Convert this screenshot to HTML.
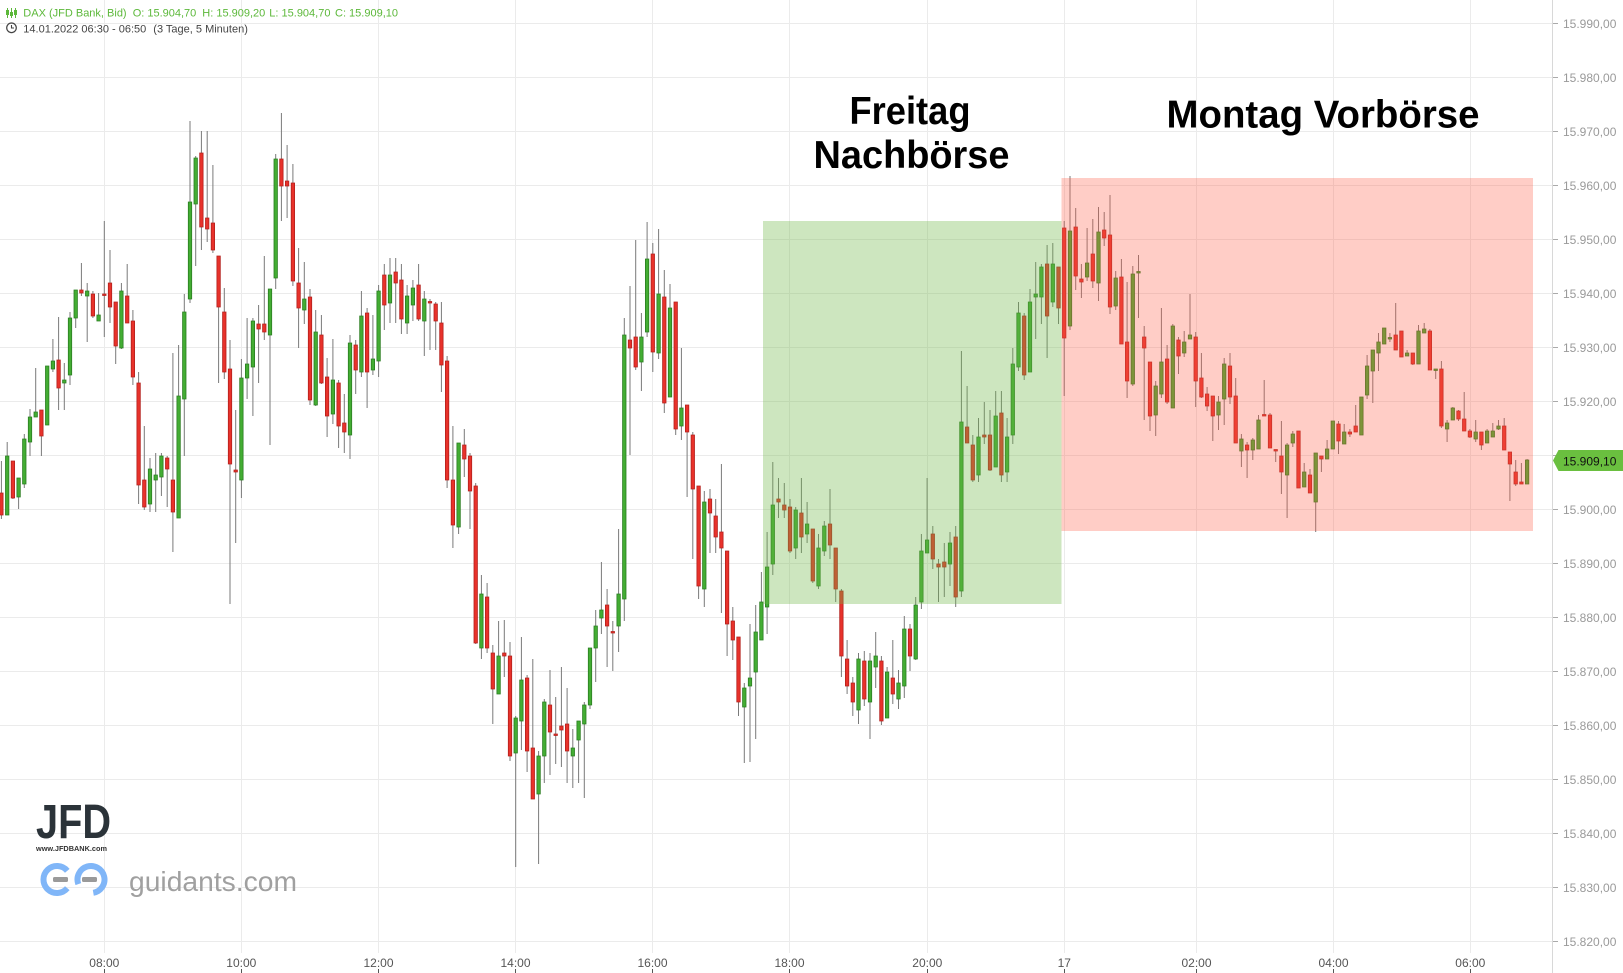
<!DOCTYPE html>
<html>
<head>
<meta charset="utf-8">
<style>
html,body{margin:0;padding:0;background:#fff;}
body{width:1623px;height:973px;overflow:hidden;}
svg{display:block;}
text{font-family:"Liberation Sans",Arial,sans-serif;}
</style>
</head>
<body>
<svg width="1623" height="973" viewBox="0 0 1623 973" xmlns="http://www.w3.org/2000/svg">
<rect width="1623" height="973" fill="#fff"/>
<!-- horizontal gridlines -->
<g stroke="#ebebeb" stroke-width="1">
<path d="M0 23.5H1552M0 77.5H1552M0 131.5H1552M0 185.5H1552M0 239.5H1552M0 293.5H1552M0 347.5H1552M0 401.5H1552M0 455.5H1552M0 509.5H1552M0 563.5H1552M0 617.5H1552M0 671.5H1552M0 725.5H1552M0 779.5H1552M0 833.5H1552M0 887.5H1552M0 941.5H1552"/>
<path d="M104.5 0V953M241.5 0V953M378.5 0V953M515.5 0V953M652.5 0V953M789.5 0V953M927.5 0V953M1064.5 0V953M1196.5 0V953M1333.5 0V953M1470.5 0V953"/>
</g>
<!-- wicks -->
<path fill="none" stroke="#7a7a7a" stroke-width="1" d="M1.4 461V519M7.2 442V515M12.9 461V499M18.6 478V509M24.3 434V488M30 409V456M35.7 368V417M41.4 410V456M47.2 366V425M52.9 339V372M58.6 317V410M64.3 363V410M70 312V385M75.7 290V328M81.4 263V296M87.2 283V342M92.9 291V318M98.6 293V321M104.3 221V337M110 250V323M115.7 302V364M121.4 283V349M127.2 264V323M132.9 310V385M138.6 372V504M144.3 426V510M150 458V512M155.7 453V512M161.4 453V496M167.2 456V507M172.9 353V552M178.6 345V518M184.3 294V456M190 121V303M195.7 156V266M201.4 131V250M207.2 131V242M212.9 165V253M218.6 256V383M224.3 288V379M230 340V604M235.7 410V543M241.4 359V498M247.1 318V399M252.9 318V416M258.6 305V383M264.3 256V340M270 289V445M275.7 154V289M281.4 113V221M287.1 145V218M292.9 164V286M298.6 248V348M304.3 262V324M310 289V405M315.7 310V406M321.4 315V384M327.1 358V437M332.9 339V424M338.6 380V448M344.3 394V453M350 335V459M355.7 340V394M361.4 291V377M367.1 308V408M372.9 315V375M378.6 285V377M384.3 264V330M390 258V323M395.7 258V323M401.4 264V334M407.1 285V334M412.9 280V321M418.6 264V321M424.3 291V356M430 299V350M435.7 302V350M441.4 302V392M447.1 356V488M452.9 426V548M458.6 444V534M464.3 429V477M470 453V529M475.7 483V644M481.4 575V659M487.1 583V653M492.8 645V724M498.6 621V694M504.3 620V677M510 642V761M515.7 716V867M521.4 637V750M527.1 675V772M532.8 659V799M538.6 751V864M544.3 699V783M550 670V775M555.7 697V764M561.4 667V767M567.1 688V783M572.8 729V788M578.6 721V783M584.3 702V798M590 648V709M595.7 610V682M601.4 562V634M607.1 589V667M612.8 621V671M618.6 529V652M624.3 318V621M630 286V455M635.7 240V370M641.4 313V391M647.1 222V337M652.8 243V372M658.6 229V359M664.3 270V413M670 284V397M675.7 302V435M681.4 348V440M687.1 405V497M692.8 432V559M698.6 486V599M704.3 491V607M710 489V553M715.7 499V553M721.4 464V613M727.1 551V656M732.8 607V660M738.5 637V716M744.3 683V763M750 624V762M755.7 605V739M761.4 572V640M767.1 532V634M772.8 462V575M778.5 478V518M784.3 483V518M790 499V553M795.7 507V559M801.4 478V553M807.1 502V543M812.8 529V583M818.5 534V589M824.3 521V556M830 489V559M835.7 548V602M841.4 589V677M847.1 640V694M852.8 677V716M858.5 653V724M864.3 651V706M870 653V739M875.7 632V688M881.4 656V725M887.1 667V718M892.8 640V704M898.5 670V709M904.3 616V698M910 624V671M915.7 597V660M921.4 534V609M927.1 478V553M932.8 526V569M938.5 559V602M944.3 543V597M950 532V586M955.7 526V607M961.4 351V597M967.1 386V443M972.8 435V482M978.5 418V482M984.3 402V444M990 410V471M995.7 391V467M1001.4 391V482M1007.1 418V482M1012.8 348V444M1018.5 302V371M1024.2 313V380M1030 289V372M1035.7 262V339M1041.4 264V324M1047.1 245V358M1052.8 243V307M1058.5 267V324M1064.2 221V396M1070 176V330M1075.7 208V290M1081.4 264V298M1087.1 228V281M1092.8 219V288M1098.5 207V301M1104.2 212V246M1110 195V314M1115.7 271V310M1121.4 259V344M1127.1 282V398M1132.8 266V386M1138.5 255V318M1144.2 326V420M1150 362V431M1155.7 381V436M1161.4 308V398M1167.1 345V404M1172.8 324V408M1178.5 337V374M1184.2 331V357M1190 294V339M1195.7 332V407M1201.4 353V398M1207.1 387V411M1212.8 396V441M1218.5 396V430M1224.2 358V425M1230 353V404M1235.7 378V443M1241.4 434V467M1247.1 442V478M1252.8 438V460M1258.5 415V449M1264.2 380V415M1270 413V448M1275.7 450V462M1281.4 421V494M1287.1 443V518M1292.8 431V447M1298.5 431V488M1304.2 463V487M1310 469V493M1315.7 453V532M1321.4 456V472M1327.1 440V459M1332.8 421V449M1338.5 421V454M1344.2 424V444M1349.9 429V437M1355.7 405V432M1361.4 397V435M1367.1 355V399M1372.8 350V403M1378.5 333V371M1384.2 328V344M1389.9 333V342M1395.7 303V350M1401.4 331V357M1407.1 350V356M1412.8 353V365M1418.5 325V364M1424.2 323V333M1429.9 329V370M1435.7 370V379M1441.4 361V428M1447.1 420V442M1452.8 407V420M1458.5 410V421M1464.2 392V431M1469.9 429V438M1475.7 420V442M1481.4 432V450M1487.1 429V443M1492.8 423V437M1498.5 420V430M1504.2 418V450M1509.9 452V501M1515.7 460V486M1521.4 463V484M1527.1 459V484"/>
<!-- green bodies -->
<path fill="#43ad33" stroke="#2a7d20" stroke-width="0.8" d="M5.5 456h3.4V515h-3.4zM16.9 478h3.4V497h-3.4zM22.6 439h3.4V484h-3.4zM28.3 417h3.4V442h-3.4zM34 412h3.4V417h-3.4zM45.5 366h3.4V425h-3.4zM51.2 361h3.4V369h-3.4zM62.6 380h3.4V383h-3.4zM68.3 318h3.4V375h-3.4zM74 290h3.4V318h-3.4zM85.5 291h3.4V296h-3.4zM96.9 315h3.4V321h-3.4zM119.7 291h3.4V348h-3.4zM148.3 469h3.4V504h-3.4zM154 475h3.4V480h-3.4zM159.7 456h3.4V477h-3.4zM176.9 396h3.4V518h-3.4zM182.6 312h3.4V399h-3.4zM188.3 202h3.4V299h-3.4zM194 158h3.4V204h-3.4zM239.7 378h3.4V480h-3.4zM245.4 364h3.4V378h-3.4zM251.2 321h3.4V367h-3.4zM268.3 289h3.4V335h-3.4zM274 159h3.4V278h-3.4zM302.6 299h3.4V310h-3.4zM314 332h3.4V405h-3.4zM331.2 380h3.4V414h-3.4zM348.3 343h3.4V435h-3.4zM359.7 316h3.4V372h-3.4zM371.2 359h3.4V370h-3.4zM376.9 291h3.4V361h-3.4zM388.3 275h3.4V303h-3.4zM405.4 296h3.4V323h-3.4zM411.2 288h3.4V305h-3.4zM422.6 299h3.4V321h-3.4zM456.9 443h3.4V527h-3.4zM479.7 594h3.4V648h-3.4zM496.9 656h3.4V694h-3.4zM514 718h3.4V753h-3.4zM519.7 680h3.4V721h-3.4zM536.9 756h3.4V794h-3.4zM542.6 702h3.4V756h-3.4zM571.1 748h3.4V756h-3.4zM576.9 721h3.4V740h-3.4zM582.6 705h3.4V724h-3.4zM588.3 648h3.4V705h-3.4zM594 626h3.4V648h-3.4zM599.7 610h3.4V618h-3.4zM616.9 594h3.4V626h-3.4zM622.6 335h3.4V599h-3.4zM639.7 337h3.4V362h-3.4zM645.4 259h3.4V332h-3.4zM656.9 294h3.4V353h-3.4zM668.3 308h3.4V397h-3.4zM679.7 408h3.4V426h-3.4zM702.6 502h3.4V589h-3.4zM742.6 688h3.4V707h-3.4zM748.3 678h3.4V686h-3.4zM754 632h3.4V672h-3.4zM759.7 602h3.4V640h-3.4zM765.4 567h3.4V607h-3.4zM771.1 505h3.4V564h-3.4zM794 510h3.4V548h-3.4zM805.4 524h3.4V534h-3.4zM816.8 548h3.4V586h-3.4zM822.6 526h3.4V551h-3.4zM856.8 659h3.4V710h-3.4zM868.3 661h3.4V702h-3.4zM874 656h3.4V667h-3.4zM885.4 672h3.4V718h-3.4zM896.8 683h3.4V699h-3.4zM902.6 629h3.4V686h-3.4zM914 605h3.4V659h-3.4zM919.7 551h3.4V602h-3.4zM925.4 540h3.4V553h-3.4zM948.3 543h3.4V564h-3.4zM959.7 422h3.4V591h-3.4zM976.8 437h3.4V475h-3.4zM994 416h3.4V467h-3.4zM1005.4 437h3.4V472h-3.4zM1011.1 364h3.4V435h-3.4zM1016.8 313h3.4V367h-3.4zM1028.3 302h3.4V372h-3.4zM1034 294h3.4V297h-3.4zM1039.7 267h3.4V297h-3.4zM1051.1 264h3.4V302h-3.4zM1068.3 231h3.4V326h-3.4zM1085.4 263h3.4V277h-3.4zM1096.8 232h3.4V283h-3.4zM1114 278h3.4V306h-3.4zM1131.1 274h3.4V384h-3.4zM1136.8 271.5h3.4V273h-3.4zM1154 386h3.4V415h-3.4zM1159.7 362h3.4V394h-3.4zM1171.1 326h3.4V408h-3.4zM1182.5 342h3.4V353h-3.4zM1188.3 335h3.4V339h-3.4zM1216.8 402h3.4V415h-3.4zM1222.5 364h3.4V399h-3.4zM1239.7 439h3.4V451h-3.4zM1251.1 440h3.4V450h-3.4zM1256.8 420h3.4V449h-3.4zM1285.4 445h3.4V475h-3.4zM1291.1 434h3.4V443h-3.4zM1302.5 472h3.4V487h-3.4zM1314 453h3.4V502h-3.4zM1325.4 449h3.4V459h-3.4zM1331.1 421h3.4V449h-3.4zM1342.5 432h3.4V444h-3.4zM1359.7 397h3.4V435h-3.4zM1365.4 366h3.4V395h-3.4zM1371.1 350h3.4V371h-3.4zM1376.8 342h3.4V353h-3.4zM1382.5 328h3.4V344h-3.4zM1388.2 337.5h3.4V339h-3.4zM1405.4 353h3.4V356h-3.4zM1416.8 331h3.4V364h-3.4zM1422.5 329h3.4V333h-3.4zM1434 369h3.4V370.5h-3.4zM1445.4 423h3.4V429h-3.4zM1451.1 408h3.4V420h-3.4zM1474 432h3.4V439h-3.4zM1485.4 431h3.4V443h-3.4zM1491.1 431h3.4V437h-3.4zM1496.8 426h3.4V429h-3.4zM1525.4 460h3.4V484h-3.4z"/>
<!-- red bodies -->
<path fill="#e8322b" stroke="#b3201c" stroke-width="0.8" d="M-0.3 493h3.4V515h-3.4zM11.2 461h3.4V498h-3.4zM39.7 410h3.4V436h-3.4zM56.9 360h3.4V388h-3.4zM79.7 290h3.4V293h-3.4zM91.2 294h3.4V316h-3.4zM102.6 294h3.4V295.5h-3.4zM108.3 283h3.4V307h-3.4zM114 302h3.4V346h-3.4zM125.5 296h3.4V323h-3.4zM131.2 321h3.4V377h-3.4zM136.9 383h3.4V485h-3.4zM142.6 480h3.4V507h-3.4zM165.5 458h3.4V469h-3.4zM171.2 480h3.4V512h-3.4zM199.7 153h3.4V227h-3.4zM205.5 218h3.4V229h-3.4zM211.2 223h3.4V250h-3.4zM216.9 256h3.4V307h-3.4zM222.6 312h3.4V372h-3.4zM228.3 369h3.4V464h-3.4zM234 470h3.4V472h-3.4zM256.9 324h3.4V329h-3.4zM262.6 324h3.4V332h-3.4zM279.7 159h3.4V186h-3.4zM285.4 181h3.4V186h-3.4zM291.2 183h3.4V281h-3.4zM296.9 283h3.4V308h-3.4zM308.3 297h3.4V400h-3.4zM319.7 335h3.4V383h-3.4zM325.4 377h3.4V416h-3.4zM336.9 383h3.4V426h-3.4zM342.6 423h3.4V432h-3.4zM354 345h3.4V370h-3.4zM365.4 313h3.4V372h-3.4zM382.6 275h3.4V305h-3.4zM394 272h3.4V283h-3.4zM399.7 280h3.4V319h-3.4zM416.9 285h3.4V319h-3.4zM428.3 301.5h3.4V303h-3.4zM434 304h3.4V321h-3.4zM439.7 323h3.4V365h-3.4zM445.4 361h3.4V480h-3.4zM451.2 480h3.4V525h-3.4zM462.6 445h3.4V459h-3.4zM468.3 456h3.4V491h-3.4zM474 486h3.4V643h-3.4zM485.4 597h3.4V648h-3.4zM491.1 653h3.4V689h-3.4zM502.6 653h3.4V656h-3.4zM508.3 656h3.4V756h-3.4zM525.4 678h3.4V751h-3.4zM531.1 748h3.4V799h-3.4zM548.3 705h3.4V732h-3.4zM554 734h3.4V735.5h-3.4zM559.7 726h3.4V730h-3.4zM565.4 724h3.4V751h-3.4zM605.4 605h3.4V626h-3.4zM611.1 631.5h3.4V633h-3.4zM628.3 340h3.4V348h-3.4zM634 337h3.4V367h-3.4zM651.1 254h3.4V352h-3.4zM662.6 297h3.4V403h-3.4zM674 302h3.4V429h-3.4zM685.4 405h3.4V432h-3.4zM691.1 435h3.4V489h-3.4zM696.9 486h3.4V586h-3.4zM708.3 499h3.4V513h-3.4zM714 516h3.4V537h-3.4zM719.7 532h3.4V548h-3.4zM725.4 551h3.4V624h-3.4zM731.1 621h3.4V640h-3.4zM736.8 637h3.4V702h-3.4zM776.8 499h3.4V502h-3.4zM782.6 505h3.4V510h-3.4zM788.3 507h3.4V551h-3.4zM799.7 513h3.4V537h-3.4zM811.1 529h3.4V581h-3.4zM828.3 524h3.4V545h-3.4zM834 548h3.4V589h-3.4zM839.7 591h3.4V656h-3.4zM845.4 659h3.4V686h-3.4zM851.1 683h3.4V702h-3.4zM862.6 661h3.4V699h-3.4zM879.7 661h3.4V721h-3.4zM891.1 678h3.4V694h-3.4zM908.3 629h3.4V656h-3.4zM931.1 534h3.4V559h-3.4zM936.8 564h3.4V567h-3.4zM942.6 562h3.4V567h-3.4zM954 537h3.4V597h-3.4zM965.4 427h3.4V443h-3.4zM971.1 445h3.4V480h-3.4zM982.6 435h3.4V437h-3.4zM988.3 435h3.4V470h-3.4zM999.7 413h3.4V475h-3.4zM1022.5 316h3.4V375h-3.4zM1045.4 264h3.4V316h-3.4zM1056.8 267h3.4V308h-3.4zM1062.5 228h3.4V338h-3.4zM1074 227h3.4V276h-3.4zM1079.7 279h3.4V282h-3.4zM1091.1 254h3.4V281h-3.4zM1102.5 230h3.4V238h-3.4zM1108.3 235h3.4V307h-3.4zM1119.7 277h3.4V344h-3.4zM1125.4 342h3.4V381h-3.4zM1142.5 337h3.4V348h-3.4zM1148.3 362h3.4V416h-3.4zM1165.4 359h3.4V402h-3.4zM1176.8 340h3.4V356h-3.4zM1194 337h3.4V381h-3.4zM1199.7 378h3.4V397h-3.4zM1205.4 394h3.4V406h-3.4zM1211.1 396h3.4V416h-3.4zM1228.3 366h3.4V397h-3.4zM1234 396h3.4V443h-3.4zM1245.4 445h3.4V450h-3.4zM1262.5 414.5h3.4V416h-3.4zM1268.3 415h3.4V448h-3.4zM1274 449.5h3.4V451h-3.4zM1279.7 456h3.4V472h-3.4zM1296.8 431h3.4V488h-3.4zM1308.3 475h3.4V493h-3.4zM1319.7 456h3.4V459h-3.4zM1336.8 424h3.4V441h-3.4zM1348.2 432h3.4V434h-3.4zM1354 426h3.4V432h-3.4zM1394 335h3.4V350h-3.4zM1399.7 331h3.4V357h-3.4zM1411.1 353h3.4V364h-3.4zM1428.2 331h3.4V370h-3.4zM1439.7 369h3.4V426h-3.4zM1456.8 411h3.4V419h-3.4zM1462.5 419h3.4V431h-3.4zM1468.2 431h3.4V437h-3.4zM1479.7 432h3.4V445h-3.4zM1502.5 426h3.4V450h-3.4zM1508.2 452h3.4V464h-3.4zM1514 472h3.4V484h-3.4zM1519.7 482h3.4V484h-3.4z"/>
<!-- session boxes -->
<rect x="763" y="221" width="298.5" height="383" fill="rgb(112,182,72)" fill-opacity="0.35"/>
<rect x="1061.5" y="178" width="471.5" height="353" fill="rgb(255,95,70)" fill-opacity="0.31"/>
<!-- annotations -->
<text x="910" y="124" text-anchor="middle" font-size="39" font-weight="bold" fill="#000" textLength="121" lengthAdjust="spacingAndGlyphs">Freitag</text>
<text x="911.5" y="168" text-anchor="middle" font-size="39" font-weight="bold" fill="#000" textLength="196" lengthAdjust="spacingAndGlyphs">Nachbörse</text>
<text x="1323" y="127.5" text-anchor="middle" font-size="39" font-weight="bold" fill="#000" textLength="313" lengthAdjust="spacingAndGlyphs">Montag Vorbörse</text>
<!-- header -->
<g fill="#5cb83a" stroke="#5cb83a">
<path d="M7.5 8V18M11.5 8V18M15.5 8V18" stroke-width="1" fill="none"/>
<rect x="6" y="10" width="3" height="5" stroke="none"/>
<rect x="10" y="12" width="3" height="4" stroke="none"/>
<rect x="14" y="10" width="3" height="5" stroke="none"/>
</g>
<g font-size="11" fill="#5cb83a">
<text x="23.3" y="16.7">DAX (JFD Bank, Bid)</text>
<text x="132.7" y="16.7">O: 15.904,70</text>
<text x="202.3" y="16.7">H: 15.909,20</text>
<text x="269.3" y="16.7">L: 15.904,70</text>
<text x="335" y="16.7">C: 15.909,10</text>
</g>
<circle cx="11.5" cy="27.8" r="4.8" fill="none" stroke="#444" stroke-width="1.2"/>
<path d="M11.5 25V28H14" fill="none" stroke="#444" stroke-width="1.1"/>
<g font-size="11" fill="#444">
<text x="23.3" y="32.3">14.01.2022 06:30 - 06:50</text>
<text x="153.3" y="32.3">(3 Tage, 5 Minuten)</text>
</g>
<!-- logos -->
<text x="36" y="838" font-size="48" font-weight="bold" fill="#2b3339" textLength="75" lengthAdjust="spacingAndGlyphs">JFD</text>
<text x="36" y="851" font-size="7.5" font-weight="bold" fill="#333" textLength="71" lengthAdjust="spacingAndGlyphs">www.JFDBANK.com</text>
<path d="M67.3 870.8A13.5 13.5 0 1 0 67.3 888.2" fill="none" stroke="#80b6f8" stroke-width="6"/>
<path d="M78.3 884.1A13.5 13.5 0 1 1 93.3 892.8" fill="none" stroke="#80b6f8" stroke-width="6"/>
<rect x="53" y="877" width="15" height="5" rx="1.5" fill="#9a9a9a"/>
<rect x="82" y="877" width="15" height="5" rx="1.5" fill="#9a9a9a"/>
<text x="129" y="891" font-size="28" fill="#a0a0a0" textLength="168" lengthAdjust="spacingAndGlyphs">guidants.com</text>
<!-- right axis -->
<path d="M1552.5 0V973" stroke="#d8d8d8" stroke-width="1"/>
<g stroke="#aaa" stroke-width="1">
<path d="M1553 23.5H1558M1553 77.5H1558M1553 131.5H1558M1553 185.5H1558M1553 239.5H1558M1553 293.5H1558M1553 347.5H1558M1553 401.5H1558M1553 455.5H1558M1553 509.5H1558M1553 563.5H1558M1553 617.5H1558M1553 671.5H1558M1553 725.5H1558M1553 779.5H1558M1553 833.5H1558M1553 887.5H1558M1553 941.5H1558"/>
</g>
<g font-size="12" fill="#9a9a9a">
<text x="1563" y="28">15.990,00</text>
<text x="1563" y="82">15.980,00</text>
<text x="1563" y="136">15.970,00</text>
<text x="1563" y="190">15.960,00</text>
<text x="1563" y="244">15.950,00</text>
<text x="1563" y="298">15.940,00</text>
<text x="1563" y="352">15.930,00</text>
<text x="1563" y="406">15.920,00</text>
<text x="1563" y="460">15.910,00</text>
<text x="1563" y="514">15.900,00</text>
<text x="1563" y="568">15.890,00</text>
<text x="1563" y="622">15.880,00</text>
<text x="1563" y="676">15.870,00</text>
<text x="1563" y="730">15.860,00</text>
<text x="1563" y="784">15.850,00</text>
<text x="1563" y="838">15.840,00</text>
<text x="1563" y="892">15.830,00</text>
<text x="1563" y="946">15.820,00</text>
</g>
<polygon points="1553,460.5 1558.5,450 1623,450 1623,471 1558.5,471" fill="#6abf3f"/>
<text x="1563" y="465.5" font-size="12" fill="#111">15.909,10</text>
<!-- x axis -->
<g font-size="12" fill="#555" text-anchor="middle">
<text x="104.3" y="967">08:00</text>
<text x="241.3" y="967">10:00</text>
<text x="378.5" y="967">12:00</text>
<text x="515.5" y="967">14:00</text>
<text x="652.5" y="967">16:00</text>
<text x="789.5" y="967">18:00</text>
<text x="927.3" y="967">20:00</text>
<text x="1064.3" y="967">17</text>
<text x="1196.5" y="967">02:00</text>
<text x="1333.5" y="967">04:00</text>
<text x="1470.3" y="967">06:00</text>
</g>
<path stroke="#555" stroke-width="1" d="M104.5 969V973M241.5 969V973M378.5 969V973M515.5 969V973M652.5 969V973M789.5 969V973M927.5 969V973M1064.5 969V973M1196.5 969V973M1333.5 969V973M1470.5 969V973"/>
</svg>
</body>
</html>
